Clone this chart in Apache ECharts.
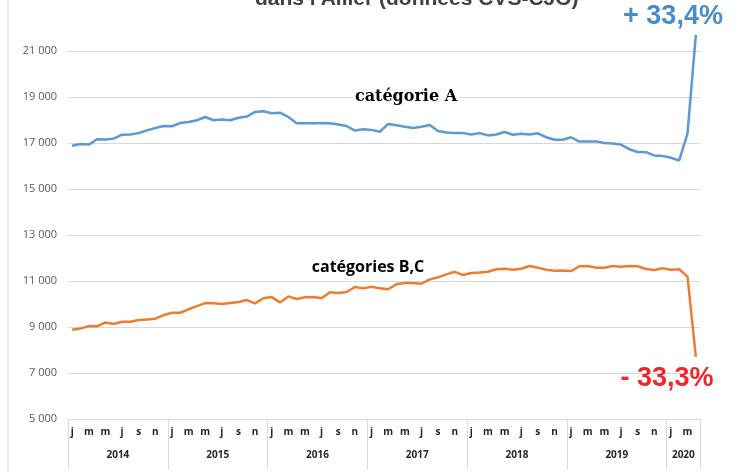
<!DOCTYPE html>
<html>
<head>
<meta charset="utf-8">
<script src="https://cdn.jsdelivr.net/npm/echarts@6/dist/echarts.min.js"></script>
<style>
html,body{margin:0;padding:0;background:#fff}
#chart{width:738px;height:472px}
</style>
</head>
<body>
<div id="chart"></div>
<script>
var years = ['2014','2015','2016','2017','2018','2019','2020']
var monthLetters = ['j','f','m','a','m','j','j','a','s','o','n','d']

var serieA = [
  16880,16960,16930,17160,17150,17190,17360,17370,17430,17550,17650,17740,
  17730,17870,17910,17990,18130,17990,18020,17990,18100,18150,18350,18380,
  18290,18320,18130,17860,17860,17860,17870,17860,17800,17740,17540,17600,
  17570,17490,17830,17770,17710,17650,17710,17780,17520,17460,17430,17430,
  17370,17430,17330,17370,17480,17360,17400,17370,17420,17250,17140,17140,
  17250,17060,17070,17070,17000,16980,16930,16730,16610,16600,16460,16440,
  16360,16240,17420,21700
]
var serieBC = [
  8880,8930,9040,9030,9200,9130,9230,9230,9300,9330,9360,9520,
  9620,9620,9770,9910,10040,10030,10000,10040,10090,10170,10030,10250,
  10300,10070,10330,10220,10290,10300,10250,10510,10480,10520,10740,10680,
  10750,10680,10640,10860,10910,10910,10880,11070,11160,11290,11400,11260,
  11350,11370,11400,11510,11530,11490,11530,11650,11580,11490,11450,11460,
  11430,11640,11650,11580,11580,11650,11620,11650,11640,11520,11480,11550,
  11490,11510,11190,7700
]

// une catégorie par mois, de janvier 2014 à avril 2020
var months = []
for (var i = 0; i < serieA.length; i++) months.push(monthLetters[i % 12])

var yearStarts = [0,12,24,36,48,60,72,76]
var yearMiddles = [6,18,30,42,54,66,74]

var chart = echarts.init(document.getElementById('chart'))

var opt = {
  animation: false,
  title: {
    text: "dans l'Allier (données CVS-CJO)",
    left: 250,
    top: -16,
    textStyle: {fontFamily: 'Liberation Sans', fontSize: 21, fontWeight: 'bold', color: '#404040'}
  },
  grid: {left: 68, right: 38, top: 51, bottom: 53},
  xAxis: [
    {
      type: 'category',
      data: months,
      boundaryGap: true,
      axisLine: {lineStyle: {color: '#d9d9d9'}},
      axisTick: {show: false},
      axisLabel: {
        interval: 1,
        margin: 8,
        fontFamily: 'Open Sans',
        fontSize: 10,
        fontWeight: 'bold',
        color: '#262626'
      }
    },
    {
      type: 'value',
      position: 'bottom',
      min: 0,
      max: 76,
      axisLine: {show: false},
      splitLine: {show: false},
      axisTick: {
        show: true,
        customValues: yearStarts,
        length: 50,
        lineStyle: {color: '#d9d9d9'}
      },
      axisLabel: {
        customValues: yearMiddles,
        margin: 31,
        fontFamily: 'Open Sans',
        fontSize: 10,
        fontWeight: 'bold',
        color: '#262626',
        formatter: function(v){
          return years[yearMiddles.indexOf(v)]
        }
      }
    }
  ],
  yAxis: {
    type: 'value',
    min: 5000,
    max: 21000,
    interval: 2000,
    axisLine: {show: false},
    axisTick: {show: false},
    splitLine: {lineStyle: {color: '#d9d9d9'}},
    axisLabel: {
      margin: 11,
      fontFamily: 'Open Sans',
      fontSize: 11,
      color: '#595959',
      formatter: function(v){
        return String(v).replace(/\B(?=(\d{3})+(?!\d))/g, ' ')
      }
    }
  },
  series: [
    {
      name: 'catégorie A',
      type: 'line',
      data: serieA,
      xAxisIndex: 0,
      symbol: 'none',
      clip: false,
      lineStyle: {color: '#5b9bd5', width: 2.5}
    },
    {
      name: 'catégories B,C',
      type: 'line',
      data: serieBC,
      xAxisIndex: 0,
      symbol: 'none',
      clip: false,
      lineStyle: {color: '#ed7d31', width: 2.5}
    }
  ],
  graphic: [
    {type: 'line', shape: {x1: 8, y1: 0, x2: 8, y2: 472}, style: {stroke: '#d9d9d9', lineWidth: 1}},
    {type: 'text', x: 406, y: 97, z: 10, style: {text: 'catégorie A', font: 'bold 16px "DejaVu Serif"', fill: '#000', align: 'center', verticalAlign: 'middle', backgroundColor: '#fff', padding: [2, 2]}},
    {type: 'text', x: 368, y: 267, z: 10, style: {text: 'catégories B,C', font: 'bold 16px "Open Sans"', fill: '#000', align: 'center', verticalAlign: 'middle'}},
    {type: 'text', x: 673, y: 17, z: 10, style: {text: '+ 33,4%', font: 'bold 27px "Liberation Sans"', fill: '#4a8ccb', align: 'center', verticalAlign: 'middle'}},
    {type: 'text', x: 667, y: 379, z: 10, style: {text: '- 33,3%', font: 'bold 27px "Liberation Sans"', fill: '#f0262a', align: 'center', verticalAlign: 'middle'}}
  ]
}

chart.setOption(opt)
</script>
</body>
</html>
